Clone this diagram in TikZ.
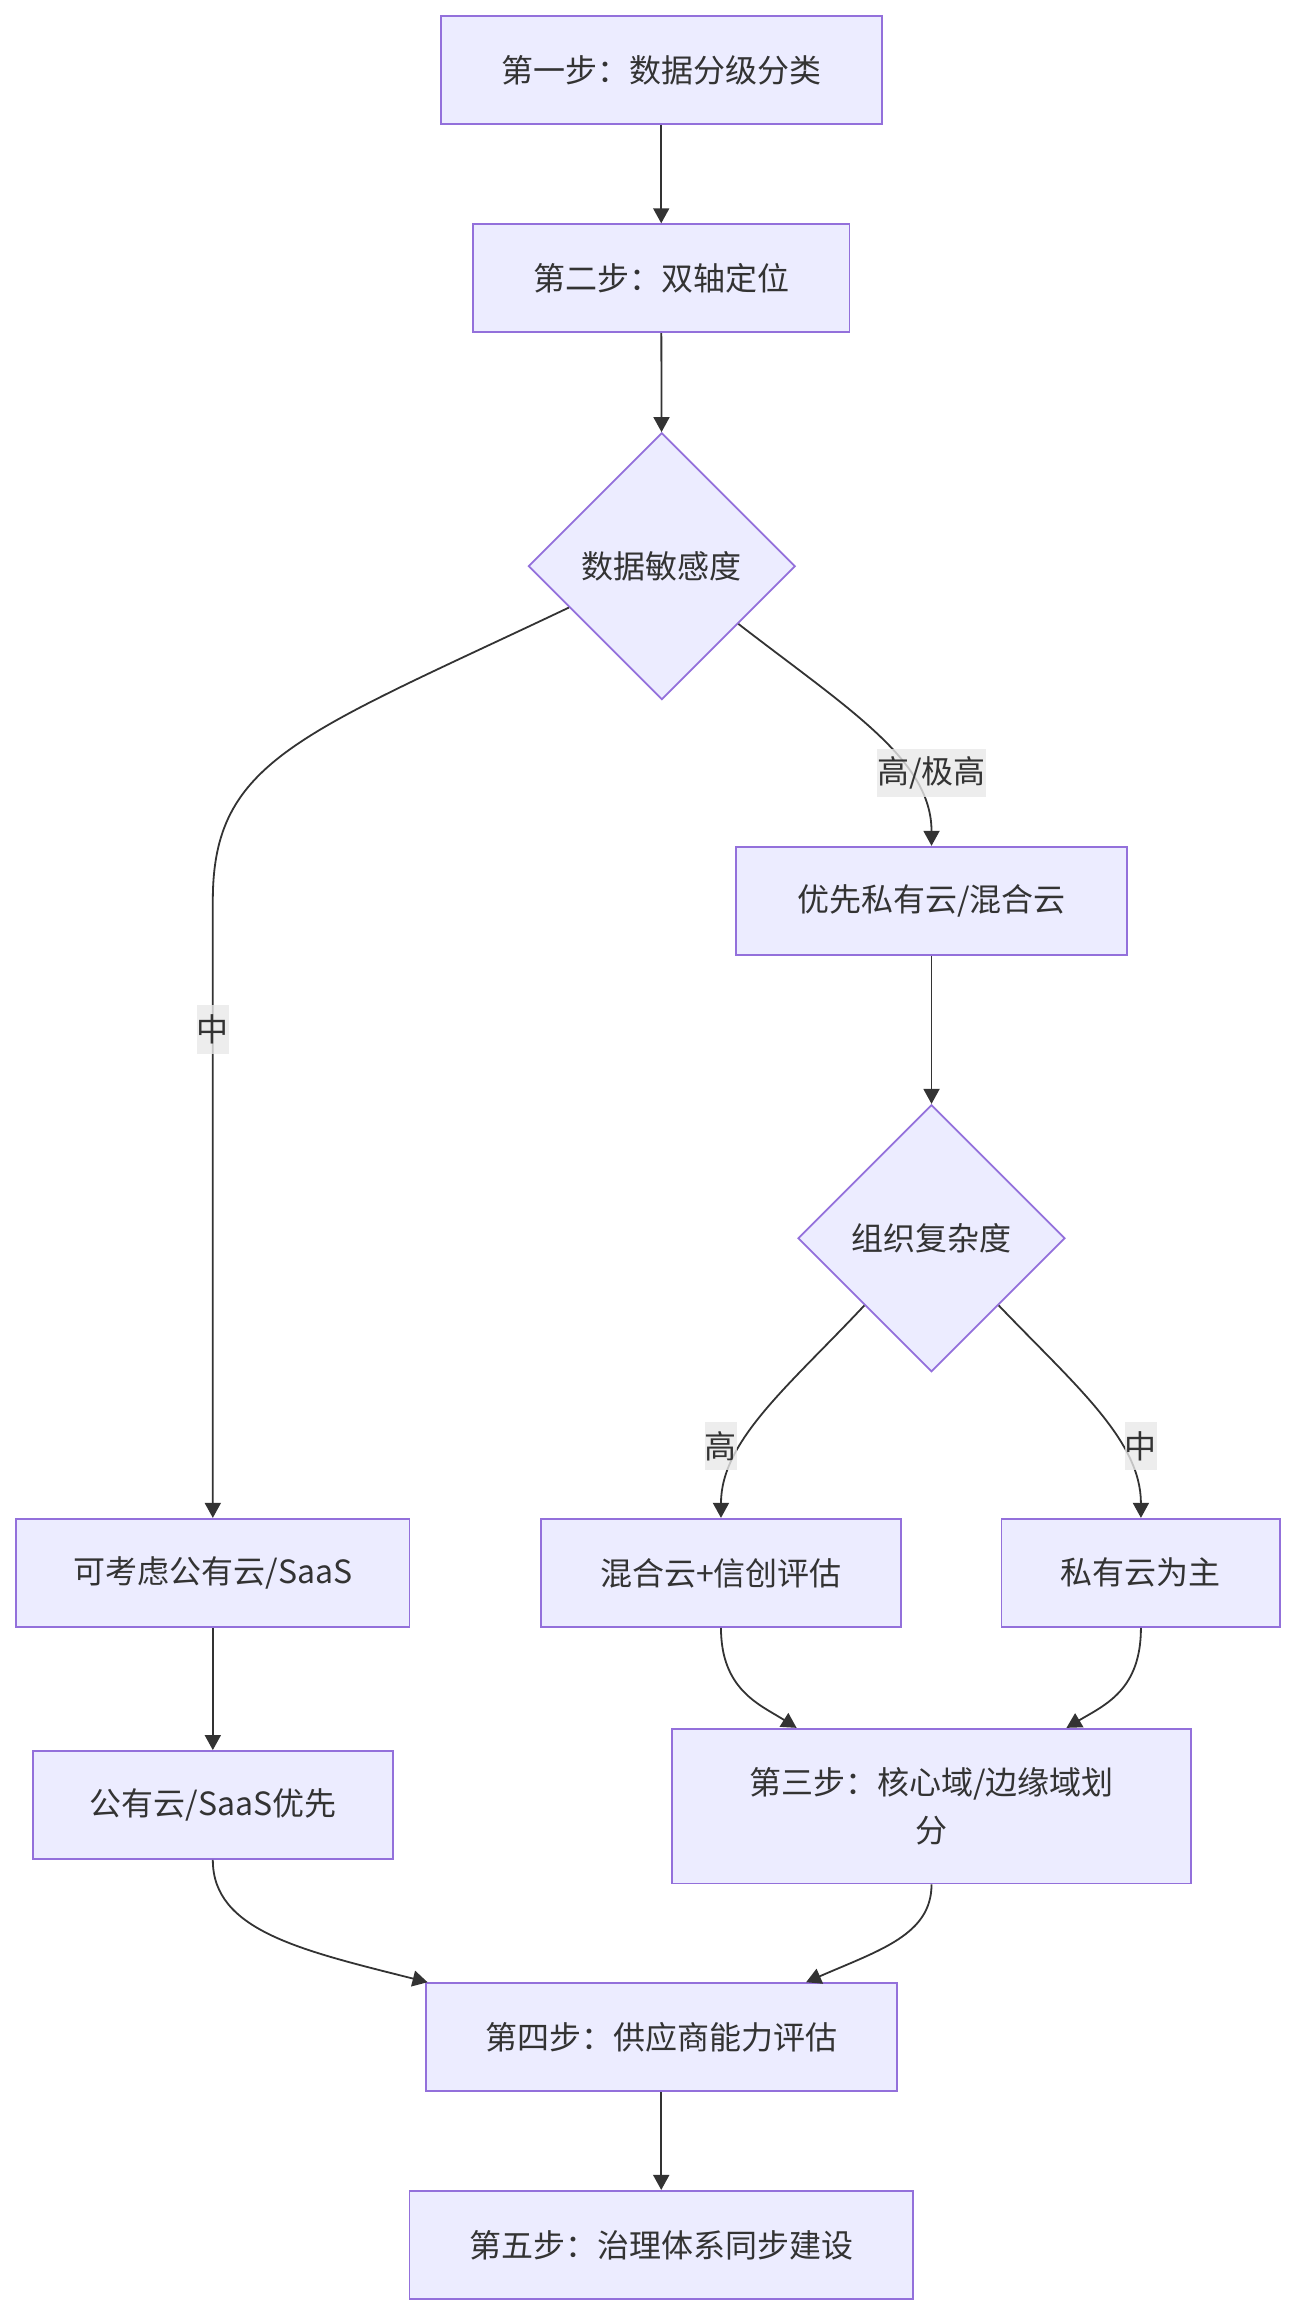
\documentclass[tikz,border=0pt]{standalone}
\usepackage{fontspec}
\setmainfont{Noto Sans CJK SC}
\usetikzlibrary{shapes.geometric, arrows.meta}
\definecolor{boxfill}{HTML}{ECECFF}
\definecolor{boxline}{HTML}{9370DB}
\definecolor{ink}{HTML}{333333}
\definecolor{tagfill}{HTML}{E8E8E8}
\begin{document}
\begin{tikzpicture}[font=\fontsize{16pt}{24pt}\selectfont, line width=0.9pt, text=ink,
    stepbox/.style={draw=boxline, fill=boxfill, minimum height=1.9cm, inner sep=0pt},
    decide/.style={diamond, aspect=1, draw=boxline, fill=boxfill, inner sep=0pt, minimum size=4.69cm},
    flow/.style={draw=ink, -{Triangle[length=7.5pt, width=8pt]}},
    tag/.style={fill=tagfill, fill opacity=0.8, text opacity=1, inner xsep=0pt, minimum height=0.85cm}]
    \useasboundingbox (0,0) rectangle (22.79,-40.70);
    \node[stepbox, minimum width=7.75cm] (n1) at (11.62,-1.23) {第一步：数据分级分类};
    \node[stepbox, minimum width=6.62cm] (n2) at (11.62,-4.89) {第二步：双轴定位};
    \node[decide] (d1) at (11.63,-9.95) {数据敏感度};
    \node[stepbox, minimum width=6.88cm] (n3) at (16.37,-15.83) {优先私有云/混合云};
    \node[decide] (d2) at (16.37,-21.76) {组织复杂度};
    \node[stepbox, minimum width=6.91cm] (n4) at (3.74,-27.64) {可考虑公有云/SaaS};
    \node[stepbox, minimum width=6.33cm] (n5) at (12.67,-27.64) {混合云+信创评估};
    \node[stepbox, minimum width=4.90cm] (n6) at (20.05,-27.64) {私有云为主};
    \node[stepbox, minimum width=6.33cm] (n7) at (3.74,-31.72) {公有云/SaaS优先};
    \node[stepbox, minimum width=9.11cm, minimum height=2.72cm, align=center]
    (n8) at (16.37,-31.74) {第三步：核心域/边缘域划\\分};
    \node[stepbox, minimum width=8.28cm] (n9) at (11.62,-35.80) {第四步：供应商能力评估};
    \node[stepbox, minimum width=8.85cm] (n10) at (11.62,-39.45) {第五步：治理体系同步建设};
    % connectors
    \draw[flow] (n1) -- (n2);
    \draw[flow] (n2) -- (d1);
    \draw[flow] (d1.204) .. controls (5.27,-12.92) and (3.74,-13.36) .. (3.74,-15.82) -- (n4.north);
    \draw[flow] (d1.-37.5) .. controls (14.94,-12.48) and (16.37,-13.36) .. (n3.north);
    \draw[flow] (n3) -- (d2);
    \draw[flow] (d2.225) .. controls (13.88,-24.34) and (12.67,-25.31) .. (n5.north);
    \draw[flow] (d2.-45) .. controls (18.89,-24.34) and (20.05,-25.31) .. (n6.north);
    \draw[flow] (n4) -- (n7);
    \draw[flow] (n5.south) .. controls (12.67,-29.70) and (13.36,-29.96) .. ([xshift=2.2cm]n8.north west);
    \draw[flow] (n6.south) .. controls (20.05,-29.70) and (19.42,-29.96) .. ([xshift=-2.2cm]n8.north east);
    \draw[flow] (n7.south) .. controls (3.74,-33.92) and (5.27,-34.27) .. ([xshift=0.05cm]n9.north west);
    \draw[flow] (n8.south) .. controls (16.37,-34.00) and (15.46,-34.27) .. ([xshift=-1.61cm]n9.north east);
    \draw[flow] (n9) -- (n10);
    % labels
    \node[tag] (t1) at (16.37,-13.58) {高/极高};
    \node[tag] (t2) at (3.74,-18.09) {中};
    \node[tag] (t3) at (12.67,-25.41) {高};
    \node[tag] (t4) at (20.05,-25.41) {中};
\end{tikzpicture}
\end{document}
